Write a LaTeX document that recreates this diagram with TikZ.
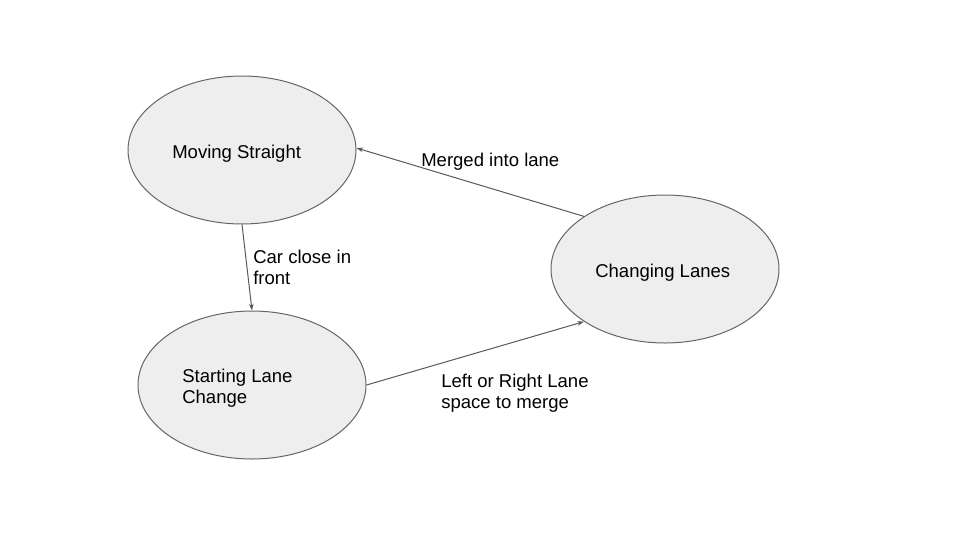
\documentclass[tikz,border=0pt]{standalone}
\usepackage{fontspec}
\setmainfont{Liberation Sans}
\usetikzlibrary{shapes.geometric,arrows.meta}
\definecolor{stateFill}{HTML}{EEEEEE}
\definecolor{stateLine}{HTML}{666666}
\definecolor{edgeLine}{HTML}{595959}
\tikzset{
    stateNode/.style={ellipse, draw=stateLine, fill=stateFill, line width=0.75pt,
        inner sep=0pt, minimum width=171pt, minimum height=111pt},
    stateText/.style={anchor=base west, inner sep=0pt, align=left,
        font=\fontsize{13.9}{15.75}\selectfont},
    transition/.style={draw=edgeLine, line width=0.75pt,
        -{Stealth[length=5pt,width=3.5pt]}}
}

\begin{document}
\begin{tikzpicture}[x=0.75pt, y=-0.75pt]
    \useasboundingbox (0,0) rectangle (960,540);
    \node[stateNode] (moving) at (242,150) {};
    \node[stateNode] (starting) at (252,385) {};
    \node[stateNode] (changing) at (665,269) {};

    \node[stateText] (movingText) at (172,158) {Moving Straight};
    \node[stateText] (startingText) at (182,403) {Starting Lane\\Change};
    \node[stateText] (changingText) at (595,277) {Changing Lanes};

    \draw[transition] (moving.south) -- (starting.north);
    \draw[transition] (changing.147) -- (moving.1);
    \draw[transition] (starting.east) -- (changing.213);

    \node[stateText] (carClose) at (253,284) {Car close in\\front};
    \node[stateText] (merged) at (421,166) {Merged into lane};
    \node[stateText] (spaceMerge) at (441,408) {Left or Right Lane\\space to merge};
\end{tikzpicture}
\end{document}
